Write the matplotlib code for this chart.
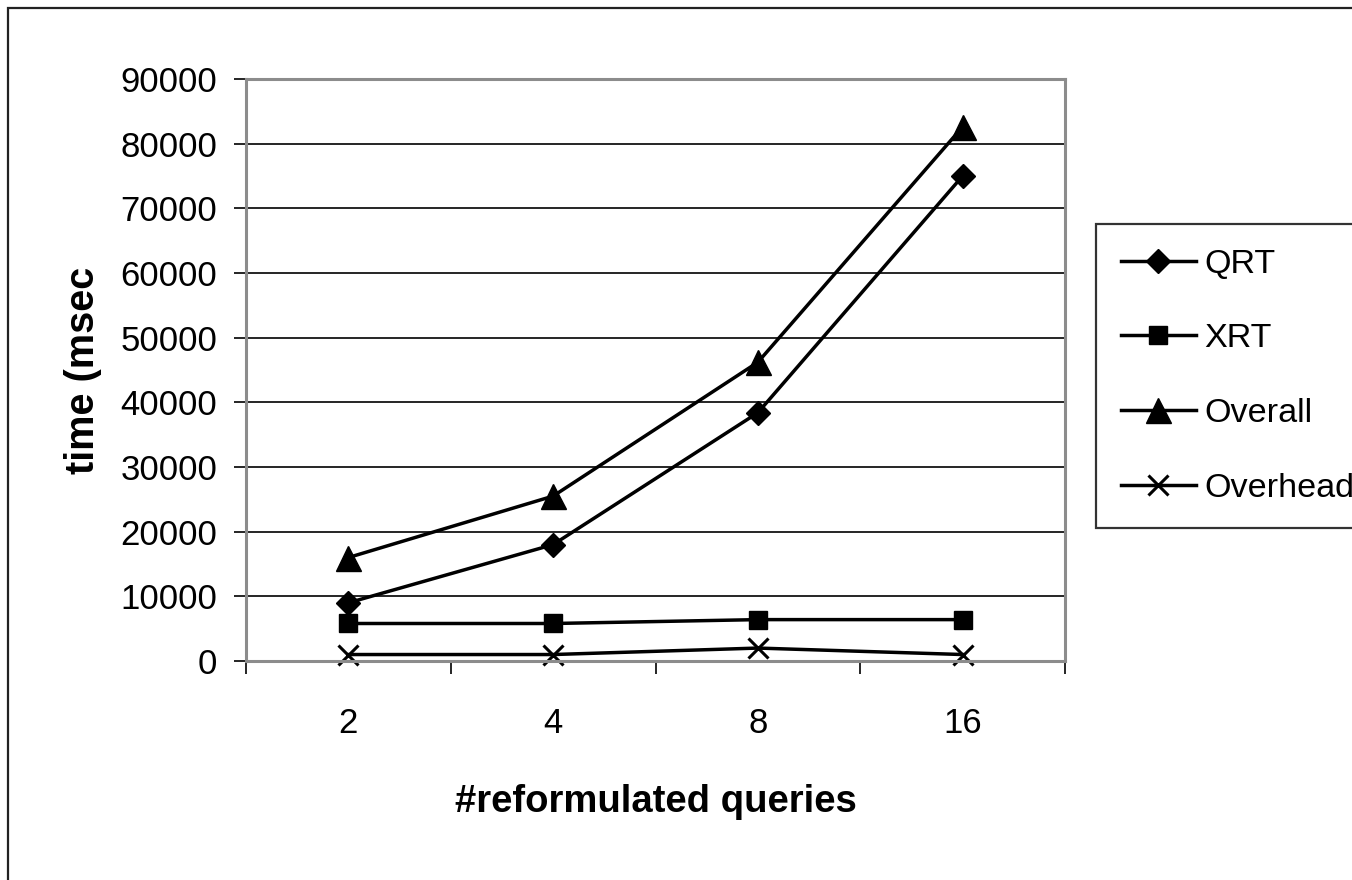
import matplotlib
matplotlib.use("Agg")
import matplotlib.pyplot as plt
from matplotlib.patches import Rectangle

# --- dane ---
categories = ["2", "4", "8", "16"]
qrt = [9000, 18000, 38400, 75000]
xrt = [5800, 5800, 6400, 6400]
overall = [16000, 25500, 46200, 82600]
overhead = [1000, 1000, 2000, 1000]
y_ticks = list(range(0, 90001, 10000))

plt.rcParams['font.family'] = ['Liberation Sans', 'DejaVu Sans']

W, H = 1352, 880
fig = plt.figure(figsize=(W / 100, H / 100), dpi=100)

# ramka wokół całego wykresu (prawa i dolna krawędź poza obrazem)
fig.patches.append(Rectangle((8 / W, -0.05), 1.1, 1 - 8 / H + 0.05, transform=fig.transFigure,
                             fill=False, edgecolor="#222222", linewidth=1.6))

ax = fig.add_axes([246 / W, 1 - 661 / H, (1065 - 246) / W, (661 - 79) / H])

x = list(range(len(categories)))
kw = dict(color="black", linewidth=2.5, clip_on=False)
ax.plot(x, qrt, marker="D", markersize=12, label="QRT", **kw)
ax.plot(x, xrt, marker="s", markersize=13.5, label="XRT", **kw)
ax.plot(x, overall, marker="^", markersize=18, label="Overall", **kw)
ax.plot(x, overhead, marker="x", markersize=15, markeredgewidth=2.2, label="Overhead", **kw)

ax.set_xlim(-0.5, len(categories) - 0.5)
ax.set_ylim(0, 90000)
ax.set_yticks(y_ticks)
ax.set_yticklabels([str(v) for v in y_ticks])
ax.set_xticks(x)
ax.set_xticklabels(categories)
ax.set_xticks([i - 0.5 for i in range(len(categories) + 1)], minor=True)

ax.grid(axis="y", color="black", linewidth=1.2)
ax.set_axisbelow(True)
for s in ax.spines.values():
    s.set_color("#8c8c8c")
    s.set_linewidth(2.2)

ax.tick_params(axis="x", which="major", length=0, labelsize=25, pad=33)
ax.tick_params(axis="x", which="minor", length=9.4, width=1.2, color="black")
ax.tick_params(axis="y", length=8.6, width=1.2, color="black", labelsize=25, pad=12)

ax.set_xlabel("#reformulated queries", fontsize=27.5, fontweight="bold", labelpad=32)
ax.set_ylabel("time (msec", fontsize=28.5, fontweight="bold", labelpad=13)

leg = fig.legend(loc="upper left", bbox_to_anchor=(1096 / W, 1 - 224 / H), borderaxespad=0,
                 fontsize=24.6, frameon=True, fancybox=False, handlelength=2.2,
                 handletextpad=0.25, labelspacing=1.28, borderpad=0.72)
leg.get_frame().set_edgecolor("black")
leg.get_frame().set_linewidth(1.6)

fig.savefig("out.png", dpi=100)
